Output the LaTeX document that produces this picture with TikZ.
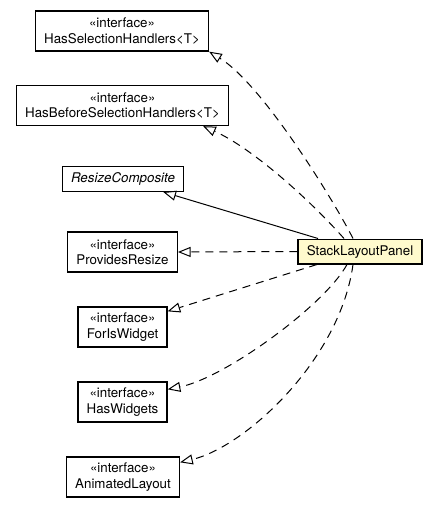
\documentclass[tikz,border=0pt]{standalone}
\usepackage{fontspec}
\setmainfont{TeX Gyre Heros}
\usetikzlibrary{arrows.meta,calc,positioning}

\definecolor{slpfill}{RGB}{255,250,205}

\begin{document}
\begin{tikzpicture}[
  x=0.75pt, y=0.75pt,
  every node/.style={font=\fontsize{10}{11.5}\selectfont},
  umlbox/.style={draw=black,line width=1pt,align=center,inner xsep=6.5pt,
                 minimum height=18.5pt},
  iface/.style={umlbox,minimum height=30pt},
  focus/.style={umlbox,fill=slpfill},
  realize/.style={-{Triangle[open,length=9.5pt,width=7.5pt]},line width=0.75pt,
                  dash pattern=on 6pt off 4.5pt},
  extends/.style={-{Triangle[open,length=9.5pt,width=7.5pt]},line width=0.75pt}
]
\useasboundingbox (0,0) rectangle (439,-507);

\node[iface] (hsh)  at (122,-31)    {«interface»\\HasSelectionHandlers<T>};
\node[iface] (hbsh) at (122.5,-105.5) {«interface»\\HasBeforeSelectionHandlers<T>};
\node[umlbox] (rc)  at (123,-179)   {\itshape ResizeComposite};
\node[iface] (pr)   at (122.5,-252) {«interface»\\ProvidesResize};
\node[iface] (fiw)  at (122.5,-327) {«interface»\\ForIsWidget};
\node[iface] (hw)   at (122.5,-402) {«interface»\\HasWidgets};
\node[iface] (al)   at (123,-477)   {«interface»\\AnimatedLayout};

\node[focus] (slp) at (360,-251.5) {StackLayoutPanel};

% realizations and the superclass
\draw[realize] ($(slp.north)+(-7,0)$)
  .. controls (333,-199) and (262,-84) .. (hsh.south east);
\draw[realize] ($(slp.north)+(-16,0)$)
  .. controls (309,-199) and (252,-148) .. ($(hbsh.south east)+(-26,0)$);
\draw[extends] ($(slp.north)+(-42,0)$) -- ($(rc.south east)+(-21,0)$);
\draw[realize] (slp.west) -- (pr.east);
\draw[realize] ($(slp.south)+(-43,0)$) -- ($(fiw.north east)+(0,-5)$);
\draw[realize] ($(slp.south)+(-13,0)$)
  .. controls (325,-305) and (225,-378) .. ($(hw.north east)+(0,-8)$);
\draw[realize] ($(slp.south)+(-7,0)$)
  .. controls (340,-360) and (245,-447) .. ($(al.north east)+(0,-6)$);
\end{tikzpicture}
\end{document}
